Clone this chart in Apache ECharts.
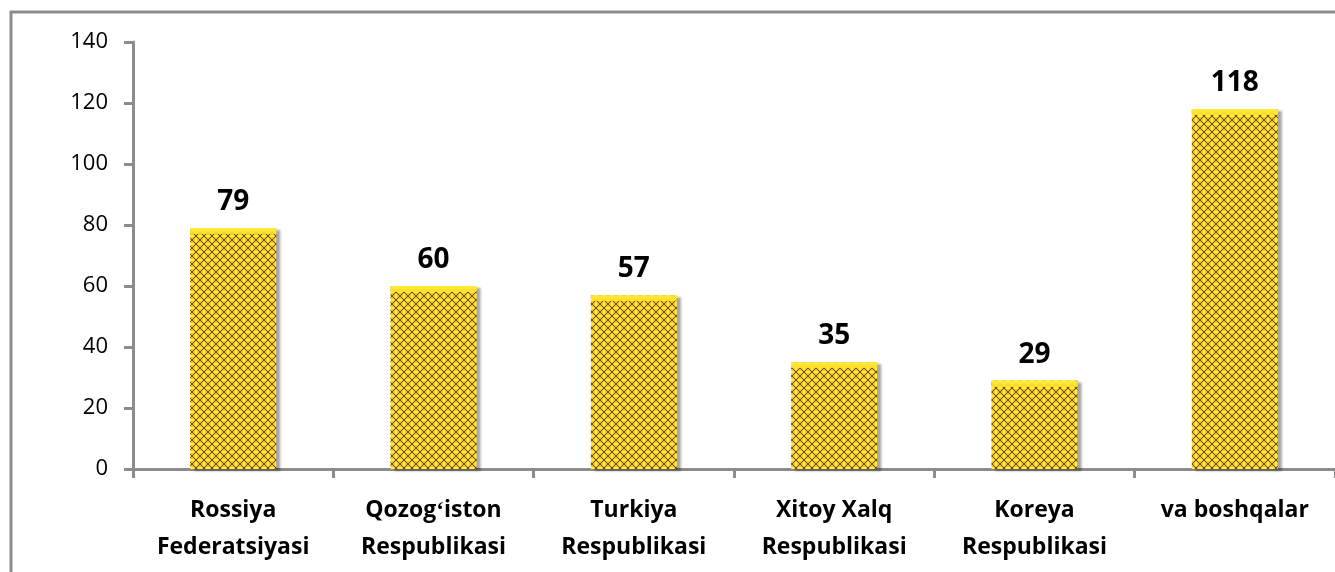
<!DOCTYPE html>
<html>
<head>
<meta charset="utf-8">
<script src="https://cdn.jsdelivr.net/npm/echarts@6/dist/echarts.min.js"></script>
<style>
  html, body { margin: 0; padding: 0; background: #fff; }
  #chart { width: 1335px; height: 572px; }
</style>
</head>
<body>
<div id="chart"></div>
<script>
// categories and values
var categories = ['Rossiya\nFederatsiyasi', 'Qozogʻiston\nRespublikasi', 'Turkiya\nRespublikasi',
                  'Xitoy Xalq\nRespublikasi', 'Koreya\nRespublikasi', 'va boshqalar'];
var values = [79, 60, 57, 35, 29, 118];
var yTicks = [0, 20, 40, 60, 80, 100, 120, 140];

// gold crosshatch texture for the bars
function makePattern() {
    var c = document.createElement('canvas');
    c.width = 8; c.height = 8;
    var ctx = c.getContext('2d');
    ctx.fillStyle = '#f2c414';
    ctx.fillRect(0, 0, 8, 8);
    ctx.strokeStyle = '#6a4c00';
    ctx.lineWidth = 1;
    ctx.beginPath();
    ctx.moveTo(0, 0); ctx.lineTo(8, 8);
    ctx.moveTo(8, 0); ctx.lineTo(0, 8);
    ctx.stroke();
    ctx.fillStyle = '#ffec55';
    ctx.fillRect(3, 0, 2, 2);
    ctx.fillRect(0, 3, 2, 2);
    ctx.fillRect(6, 3, 2, 2);
    ctx.fillRect(3, 6, 2, 2);
    return c;
}

var chart = echarts.init(document.getElementById('chart'));
var pxPerUnit = 427 / 140;  // rough, only used to size the yellow cap
var capData = values.map(function (v) {
    var f = Math.min(0.5, 6 / (v * pxPerUnit));
    return {
        value: v,
        itemStyle: {
            color: new echarts.graphic.LinearGradient(0, 0, 0, 1, [
                { offset: 0, color: 'rgba(255,236,60,1)' },
                { offset: f, color: 'rgba(255,226,40,0.9)' },
                { offset: f + 0.001, color: 'rgba(255,226,40,0)' },
                { offset: 1, color: 'rgba(255,226,40,0)' }
            ])
        }
    };
});

var option = {
    animation: false,
    backgroundColor: '#fff',
    textStyle: { fontFamily: 'Open Sans' },
    graphic: [
        { type: 'line', shape: { x1: 10, y1: 12, x2: 1335, y2: 12 }, style: { stroke: '#8c8c8c', lineWidth: 3 } },
        { type: 'line', shape: { x1: 11, y1: 11, x2: 11, y2: 572 }, style: { stroke: '#8c8c8c', lineWidth: 3 } }
    ],
    grid: { left: 133, right: -3, top: 42, bottom: 103, containLabel: false },
    xAxis: {
        type: 'category',
        data: categories,
        axisLine: { lineStyle: { color: '#8c8c8c', width: 3 } },
        axisTick: { show: true, length: 9, lineStyle: { color: '#8c8c8c', width: 3 } },
        axisLabel: {
            interval: 0,
            margin: 23,
            color: '#000',
            fontWeight: 'bold',
            fontSize: 23,
            lineHeight: 37,
            fontFamily: 'Open Sans'
        },
        splitLine: { show: false }
    },
    yAxis: {
        type: 'value',
        min: yTicks[0],
        max: yTicks[yTicks.length - 1],
        interval: 20,
        axisLine: { show: true, lineStyle: { color: '#8c8c8c', width: 3 } },
        axisTick: { show: true, length: 9, lineStyle: { color: '#8c8c8c', width: 3 } },
        axisLabel: { color: '#000', fontSize: 22, margin: 25, fontFamily: 'Open Sans' },
        splitLine: { show: false }
    },
    series: [
        {
            type: 'bar',
            data: values,
            barWidth: 86,
            itemStyle: {
                color: { image: makePattern(), repeat: 'repeat' },
                shadowColor: 'rgba(0,0,0,0.35)',
                shadowOffsetX: 4,
                shadowOffsetY: 2,
                shadowBlur: 2
            },
            label: {
                show: true,
                position: 'top',
                distance: 12,
                color: '#000',
                fontWeight: 'bold',
                fontSize: 28,
                fontFamily: 'Open Sans'
            }
        },
        {
            type: 'bar',
            data: capData,
            barWidth: 86,
            barGap: '-100%',
            silent: true,
            z: 3
        }
    ]
};
chart.setOption(option);
</script>
</body>
</html>
